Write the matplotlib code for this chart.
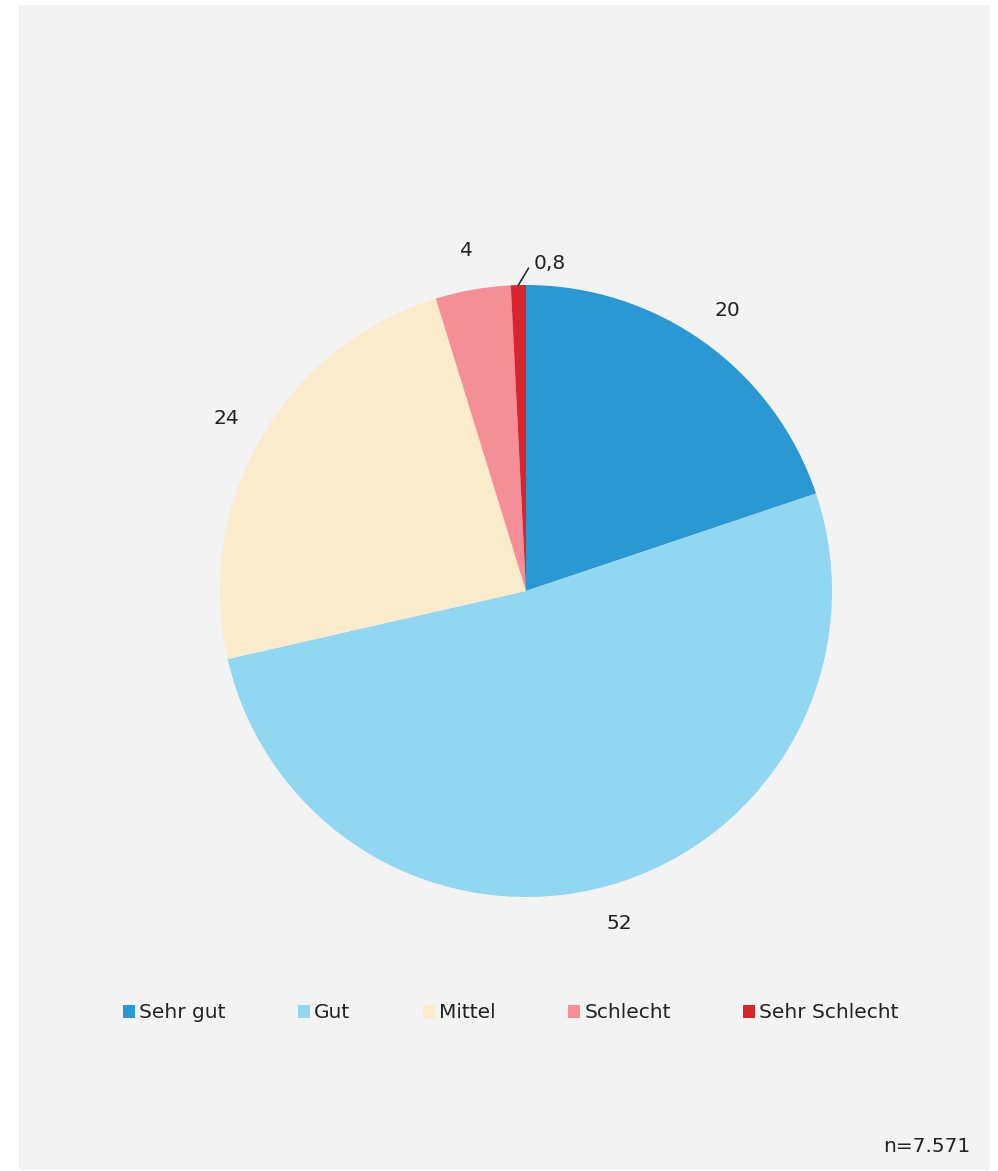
import numpy as np
import matplotlib.pyplot as plt
from matplotlib.patches import Rectangle, Patch

categories = ["Sehr gut", "Gut", "Mittel", "Schlecht", "Sehr Schlecht"]
values = [20, 52, 24, 4, 0.8]
value_labels = ["20", "52", "24", "4", "0,8"]
colors = ["#2B98D3", "#91D7F2", "#FAEBCC", "#F48F98", "#D7252E"]
n_text = "n=7.571"

W, H = 998, 1171
fs = 14.5
fig = plt.figure(figsize=(W / 100, H / 100), dpi=100)
fig.patch.set_facecolor("white")
fig.patches.append(Rectangle((19 / W, 1 / H), 971 / W, 1165 / H,
                             transform=fig.transFigure, facecolor="#F2F3F2",
                             edgecolor="none", zorder=-1))

# square axes around the pie, centre (526, 591), radius 306 px
cx, cy, r = 526, 591, 306
ax = fig.add_axes([(cx - r) / W, (H - cy - r) / H, 2 * r / W, 2 * r / H])
ax.set_zorder(1)

wedges, _ = ax.pie(values, colors=colors, startangle=90, counterclock=False,
                   radius=1, wedgeprops=dict(linewidth=0))
ax.set_xlim(-1, 1)
ax.set_ylim(-1, 1)
ax.axis("off")

txt = dict(fontsize=fs, color="#222222", va="center")
for w, lab in zip(wedges, value_labels):
    mid = np.deg2rad((w.theta1 + w.theta2) / 2)
    if lab == "0,8":
        # thin slice: short leader line, label to the right of it
        x0, y0 = np.cos(mid), np.sin(mid)
        ax.plot([x0, x0 + 0.033], [y0, y0 + 0.055], color="#222222", lw=1.1,
                clip_on=False)
        ax.text(x0 + 0.05, y0 + 0.072, lab, ha="left", **txt)
    else:
        d = 1.13
        ax.text(d * np.cos(mid), d * np.sin(mid), lab, ha="center", **txt)

handles = [Patch(facecolor=c, edgecolor="none") for c in colors]
fig.legend(handles, categories, loc="center", ncol=5,
           bbox_to_anchor=(511 / W, (H - 1013) / H), frameon=False,
           fontsize=fs, handlelength=0.6, handleheight=0.6,
           handletextpad=0.2, columnspacing=3.6, labelcolor="#222222")

fig.text(970 / W, (H - 1147) / H, n_text, fontsize=fs, color="#222222",
         ha="right", va="center")

fig.savefig("out.png", dpi=100)
